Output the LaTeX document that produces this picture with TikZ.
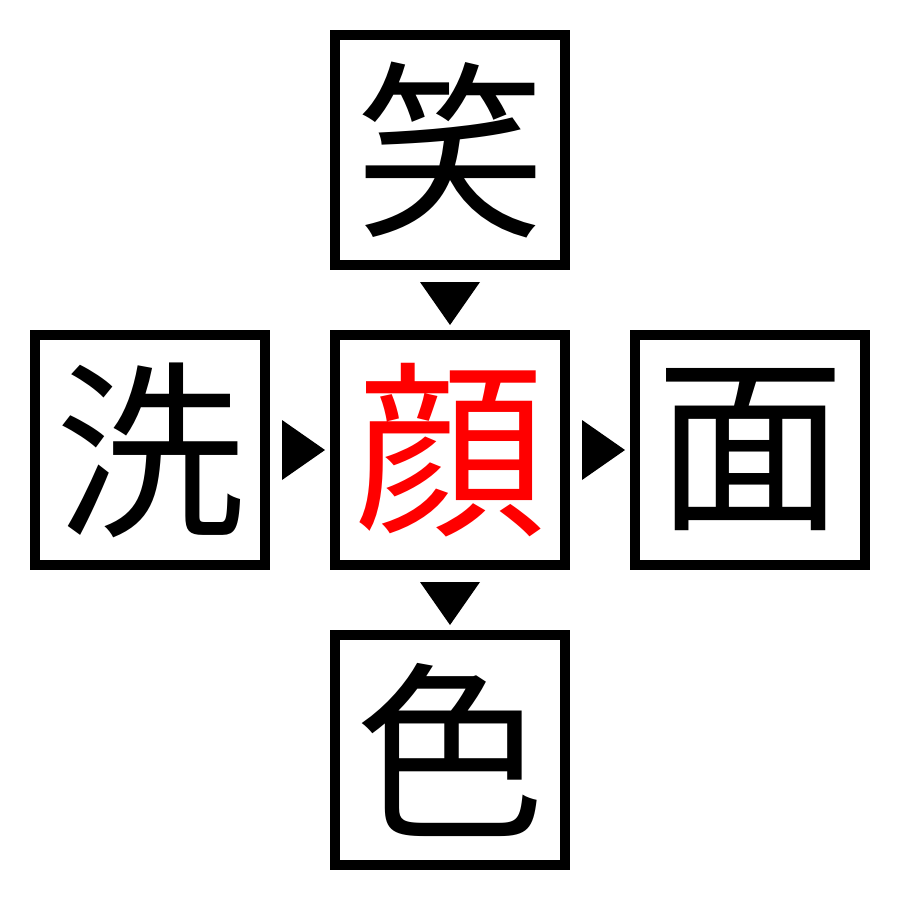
\documentclass[tikz,border=0pt]{standalone}
\usepackage{fontspec}
\newfontfamily\cjk{Noto Sans CJK JP}
\begin{document}
\begin{tikzpicture}[x=1pt,y=-1pt,
  kbox/.style={draw=black,line width=10pt,minimum size=230pt,inner sep=0pt,font=\cjk\fontsize{190pt}{190pt}\selectfont},
  tri/.style={fill=black,draw=none}]
\useasboundingbox (0,0) rectangle (900,900);
\node[kbox] (top) at (450,150) {笑};
\node[kbox] (left) at (150,450) {洗};
\node[kbox,text=red] (center) at (450,450) {顔};
\node[kbox] (right) at (750,450) {面};
\node[kbox] (bottom) at (450,750) {色};
\fill[tri] (420,282) -- (480,282) -- (450,325) -- cycle;
\fill[tri] (420,582) -- (480,582) -- (450,625) -- cycle;
\fill[tri] (282,420) -- (282,480) -- (325,450) -- cycle;
\fill[tri] (582,420) -- (582,480) -- (625,450) -- cycle;
\end{tikzpicture}
\end{document}
